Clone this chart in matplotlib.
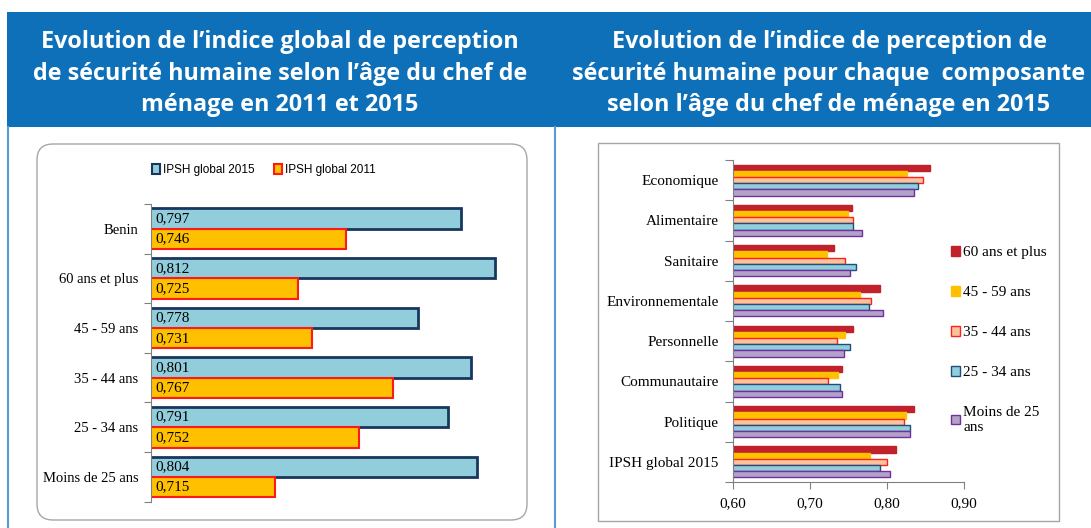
import matplotlib.pyplot as plt
import numpy as np
from matplotlib.patches import Rectangle, FancyBboxPatch, Patch
from matplotlib.lines import Line2D

# left chart data
age_groups = ["Benin", "60 ans et plus", "45 - 59 ans", "35 - 44 ans",
              "25 - 34 ans", "Moins de 25 ans"]
ipsh_2015 = [0.797, 0.812, 0.778, 0.801, 0.791, 0.804]
ipsh_2011 = [0.746, 0.725, 0.731, 0.767, 0.752, 0.715]

# right chart data
components = ["Economique", "Alimentaire", "Sanitaire", "Environnementale",
              "Personnelle", "Communautaire", "Politique", "IPSH global 2015"]
series_names = ["60 ans et plus", "45 - 59 ans", "35 - 44 ans",
                "25 - 34 ans", "Moins de 25\nans"]
v_60plus = [0.857, 0.755, 0.732, 0.791, 0.756, 0.742, 0.836, 0.812]
v_45_59 = [0.827, 0.750, 0.722, 0.765, 0.746, 0.737, 0.825, 0.778]
v_35_44 = [0.847, 0.756, 0.746, 0.779, 0.735, 0.723, 0.822, 0.801]
v_25_34 = [0.841, 0.756, 0.760, 0.777, 0.752, 0.739, 0.830, 0.791]
v_moins25 = [0.835, 0.768, 0.752, 0.795, 0.744, 0.742, 0.831, 0.804]
series_values = [v_60plus, v_45_59, v_35_44, v_25_34, v_moins25]

W, H = 1091, 528
serif = "Liberation Serif"
sans = "Liberation Sans"
title_font = "Open Sans"

fig = plt.figure(figsize=(W / 100, H / 100), dpi=100)


def fx(x):
    return x / W


def fy(y):
    return 1 - y / H


def box(x0, y0, x1, y1):
    return [fx(x0), fy(y1), fx(x1) - fx(x0), fy(y0) - fy(y1)]


# header band and frame lines
fig.add_artist(Rectangle((fx(7), fy(127)), fx(1091) - fx(7), fy(12) - fy(127),
                         transform=fig.transFigure, color="#0D70B8", lw=0,
                         zorder=-2))
fig.add_artist(Line2D([fx(8), fx(8)], [fy(127), 0], transform=fig.transFigure,
                      color="#5B9BD5", lw=1.5, zorder=-2))
fig.add_artist(Line2D([fx(555), fx(555)], [fy(127), 0], transform=fig.transFigure,
                      color="#5B9BD5", lw=1.5, zorder=-2))

left_title = ["Evolution de l\u2019indice global de perception",
              "de s\u00e9curit\u00e9 humaine selon l\u2019\u00e2ge du chef de",
              "m\u00e9nage en 2011 et 2015"]
right_title = ["Evolution de l\u2019indice de perception de",
               "s\u00e9curit\u00e9 humaine pour chaque  composante",
               "selon l\u2019\u00e2ge du chef de m\u00e9nage en 2015"]
baselines = [48, 80, 111]
for line, yb in zip(left_title, baselines):
    fig.text(fx(280), fy(yb), line, ha="center", va="baseline", color="white",
             fontsize=16.8, fontweight="bold", family=title_font)
for line, yb in zip(right_title, baselines):
    fig.text(fx(829), fy(yb), line, ha="center", va="baseline", color="white",
             fontsize=16.8, fontweight="bold", family=title_font)

# chart boxes
fig.add_artist(FancyBboxPatch((37, H - 520), 490, 376,
                              boxstyle="round,pad=0,rounding_size=16",
                              transform=None, facecolor="white",
                              edgecolor="#A6A6A6", lw=1, zorder=-1))
fig.add_artist(Rectangle((598, H - 521), 461, 378, transform=None,
                         facecolor="white", edgecolor="#A6A6A6", lw=1,
                         zorder=-1))

# ---- left chart ----
ax1 = fig.add_axes(box(150.7, 204, 513.6, 501.7))
y = np.arange(len(age_groups))
h = 0.41
ax1.barh(y - h / 2, ipsh_2015, height=h, color="#92CDDC",
         edgecolor="#17375E", lw=2)
ax1.barh(y + h / 2, ipsh_2011, height=h, color="#FFC000",
         edgecolor="#FF1A1A", lw=1.5)
for yi, a, b in zip(y, ipsh_2015, ipsh_2011):
    ax1.text(0.662, yi - h / 2, f"{a:.3f}".replace(".", ","), va="center",
             ha="left", fontsize=11, family=serif)
    ax1.text(0.662, yi + h / 2, f"{b:.3f}".replace(".", ","), va="center",
             ha="left", fontsize=11, family=serif)
ax1.set_xlim(0.66, 0.82)
ax1.set_ylim(len(age_groups) - 0.5, -0.5)
ax1.set_yticks(np.arange(-0.5, len(age_groups)), [""] * (len(age_groups) + 1))
ax1.set_yticks(y, age_groups, minor=True)
ax1.tick_params(axis="y", which="major", length=5, color="#808080")
ax1.tick_params(axis="y", which="minor", length=0, pad=9, labelsize=10.5)
for lab in ax1.get_yticklabels(minor=True):
    lab.set_family(serif)
ax1.set_xticks([])
for s in ["top", "right", "bottom"]:
    ax1.spines[s].set_visible(False)
ax1.spines["left"].set_color("#808080")
ax1.patch.set_alpha(0)

leg1 = fig.legend(handles=[Patch(facecolor="#92CDDC", edgecolor="#17375E", lw=1.5,
                                 label="IPSH global 2015"),
                           Patch(facecolor="#FFC000", edgecolor="#FF1A1A", lw=1.5,
                                 label="IPSH global 2011")],
                  loc="center", bbox_to_anchor=(fx(264), fy(170)), ncol=2,
                  frameon=False, handlelength=0.7, handleheight=1.0,
                  handletextpad=0.25, columnspacing=1.6,
                  prop={"family": sans, "size": 8.5})

# ---- right chart ----
ax2 = fig.add_axes(box(733, 160, 963.5, 482))
colors = ["#C0212A", "#FFC000", "#FBC39C", "#92CDDC", "#B3A2C7"]
edges = ["#C0212A", "#FFC000", "#FF2020", "#1F4E79", "#7030A0"]
yc = np.arange(len(components))
bh = 0.153
for i, (vals, c, e) in enumerate(zip(series_values, colors, edges)):
    ax2.barh(yc + (i - 2) * bh, vals, height=bh, color=c, edgecolor=e,
             lw=1, label=series_names[i])
ax2.set_xlim(0.60, 0.90)
ax2.set_ylim(len(components) - 0.5, -0.5)
ax2.set_yticks(np.arange(-0.5, len(components)), [""] * (len(components) + 1))
ax2.set_yticks(yc, components, minor=True)
ax2.tick_params(axis="y", which="major", length=6, color="#808080")
ax2.tick_params(axis="y", which="minor", length=0, pad=10.5, labelsize=11)
for lab in ax2.get_yticklabels(minor=True):
    lab.set_family(serif)
ax2.set_xticks([0.60, 0.70, 0.80, 0.90], ["0,60", "0,70", "0,80", "0,90"])
ax2.tick_params(axis="x", length=5, color="#808080", labelsize=11, pad=6)
for lab in ax2.get_xticklabels():
    lab.set_family(serif)
for s in ["top", "right"]:
    ax2.spines[s].set_visible(False)
ax2.spines["left"].set_color("#808080")
ax2.spines["bottom"].set_color("#808080")
ax2.patch.set_alpha(0)

handles, labels = ax2.get_legend_handles_labels()
leg2 = fig.legend(handles, labels, loc="upper left",
                  bbox_to_anchor=(fx(945), fy(240)), frameon=False,
                  handlelength=0.6, handleheight=0.6, handletextpad=0.2,
                  labelspacing=1.75, borderaxespad=0,
                  prop={"family": serif, "size": 11})

fig.savefig("out.png", dpi=100)
